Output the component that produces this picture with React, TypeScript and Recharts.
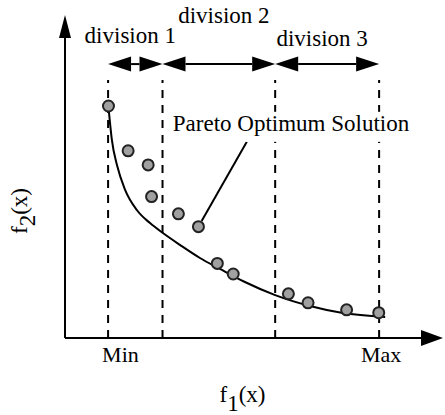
import {
  ComposedChart,
  Label,
  Line,
  ReferenceLine,
  Scatter,
  XAxis,
  YAxis,
} from "recharts";

const FONT = "'Liberation Serif', 'Times New Roman', serif";

// division boundaries along f1 (first = Min, last = Max)
const boundaries = [1.14, 2.58, 5.56, 8.31];
const divisionNames = ["division 1", "division 2", "division 3"];
const edgeLabels = ["Min", "Max"];
const arrowLevel = 8.56;
const dashTop = 8.06;

// sampled solutions (grey dots)
const solutionX = [1.15, 1.67, 2.2, 2.29, 3.0, 3.53, 4.03, 4.45, 5.91, 6.43, 7.45, 8.3];
const solutionY = [7.25, 5.85, 5.41, 4.42, 3.88, 3.48, 2.33, 2.0, 1.38, 1.1, 0.88, 0.79];

// pareto front curve
const frontX = [1.16, 1.24, 1.38, 1.59, 1.9, 2.25, 2.59, 3.04, 3.57, 4.1, 4.76, 5.56, 6.48, 7.35, 8.47];
const frontY = [7.09, 6.19, 5.38, 4.63, 4.0, 3.59, 3.28, 2.91, 2.5, 2.16, 1.75, 1.34, 1.0, 0.78, 0.66];

const paretoLabel = "Pareto Optimum Solution";
const paretoPoint = 5;
const paretoAnchor = { x: 4.81, y: 6.13 };

const solutions = solutionX.map((x, i) => ({ x, y: solutionY[i] }));
const front = frontX.map((x, i) => ({ x, y: frontY[i] }));

// label offsets (px) from the middle of each division arrow
const divLabelOffsets = [
  [-5, -21],
  [5, -41],
  [-5, -18],
];

const textStyle = { fill: "#000", fontFamily: FONT };

const AxisArrow = ({ x1, y1, x2, y2, len, half }: any) => {
  const dx = x2 - x1;
  const dy = y2 - y1;
  const d = Math.hypot(dx, dy);
  const ux = dx / d;
  const uy = dy / d;
  const bx = x2 - ux * len;
  const by = y2 - uy * len;
  const px = -uy * half;
  const py = ux * half;
  return (
    <g>
      <line x1={x1} y1={y1} x2={bx} y2={by} stroke="#000" strokeWidth={2} />
      <polygon
        points={`${x2},${y2} ${bx + px},${by + py} ${bx - px},${by - py}`}
        fill="#000"
      />
    </g>
  );
};

const DivisionArrow = ({ x1, y1, x2, i }: any) => {
  const L = 23;
  const H = 7.5;
  const y = y1;
  const [ox, oy] = divLabelOffsets[i];
  return (
    <g>
      <line x1={x1 + L} y1={y} x2={x2 - L} y2={y} stroke="#000" strokeWidth={2} />
      <polygon points={`${x1},${y} ${x1 + L},${y - H} ${x1 + L},${y + H}`} fill="#000" />
      <polygon points={`${x2},${y} ${x2 - L},${y - H} ${x2 - L},${y + H}`} fill="#000" />
      <text
        x={(x1 + x2) / 2 + ox}
        y={y + oy}
        textAnchor="middle"
        fontSize={23}
        style={textStyle}
      >
        {divisionNames[i]}
      </text>
    </g>
  );
};

const ParetoCallout = ({ x1, y1, x2, y2 }: any) => {
  const d = Math.hypot(x2 - x1, y2 - y1);
  const sx = x1 + ((x2 - x1) / d) * 6.5;
  const sy = y1 + ((y2 - y1) / d) * 6.5;
  return (
    <g>
      <line x1={sx} y1={sy} x2={x2} y2={y2} stroke="#000" strokeWidth={2} />
      <rect x={x2 - 77} y={y2 - 30} width={243} height={30} fill="#fff" />
      <text x={x2 - 74} y={y2 - 11} fontSize={23} style={textStyle}>
        {paretoLabel}
      </text>
    </g>
  );
};

const EdgeTick = ({ x, y, payload }: any) => {
  const isMin = payload.value === boundaries[0];
  return (
    <text
      x={isMin ? x - 6 : x + 2}
      y={y + 16}
      textAnchor={isMin ? "start" : "middle"}
      fontSize={22}
      style={textStyle}
    >
      {isMin ? edgeLabels[0] : edgeLabels[1]}
    </text>
  );
};

const XLabel = ({ viewBox }: any) => (
  <text
    x={viewBox.x + viewBox.width / 2 - 11.5}
    y={viewBox.y + 64}
    textAnchor="middle"
    fontSize={23}
    style={textStyle}
  >
    <tspan>f</tspan>
    <tspan dy={9}>1</tspan>
    <tspan dy={-9}>(x)</tspan>
  </text>
);

const YLabel = ({ viewBox }: any) => (
  <text
    transform={`translate(${viewBox.x + 27}, ${viewBox.y + viewBox.height / 2 + 33}) rotate(-90)`}
    textAnchor="middle"
    fontSize={23}
    style={textStyle}
  >
    <tspan>f</tspan>
    <tspan dy={8}>2</tspan>
    <tspan dy={-8}>(x)</tspan>
  </text>
);

export default function App() {
  return (
    <div style={{ position: "absolute", left: 0, top: 0, background: "#fff" }}>
      <ComposedChart
        width={445}
        height={415}
        margin={{ top: 18, right: 2, bottom: 0, left: 0 }}
      >
        <XAxis
          type="number"
          dataKey="x"
          domain={[0, 10]}
          allowDataOverflow
          ticks={[boundaries[0], boundaries[boundaries.length - 1]]}
          tick={<EdgeTick />}
          tickLine={false}
          axisLine={false}
          height={77}
        >
          <Label content={<XLabel />} />
        </XAxis>
        <YAxis
          type="number"
          dataKey="y"
          domain={[0, 10]}
          allowDataOverflow
          tick={false}
          tickLine={false}
          axisLine={false}
          width={65}
        >
          <Label content={<YLabel />} />
        </YAxis>

        {boundaries.map((b) => (
          <ReferenceLine
            key={`dash-${b}`}
            segment={[
              { x: b, y: 0 },
              { x: b, y: dashTop },
            ]}
            stroke="#000"
            strokeWidth={2}
            strokeDasharray="8 7"
            ifOverflow="visible"
          />
        ))}

        {divisionNames.map((name, i) => (
          <ReferenceLine
            key={name}
            segment={[
              { x: boundaries[i], y: arrowLevel },
              { x: boundaries[i + 1], y: arrowLevel },
            ]}
            ifOverflow="visible"
            shape={(p: any) => <DivisionArrow {...p} i={i} />}
          />
        ))}

        <ReferenceLine
          segment={[
            { x: 0, y: 0 },
            { x: 0, y: 10.09 },
          ]}
          ifOverflow="visible"
          shape={(p: any) => <AxisArrow {...p} len={23} half={6} />}
        />
        <ReferenceLine
          segment={[
            { x: 0, y: 0 },
            { x: 10, y: 0 },
          ]}
          ifOverflow="visible"
          shape={(p: any) => <AxisArrow {...p} len={22} half={8} />}
        />

        <Line
          data={front}
          dataKey="y"
          type="monotone"
          stroke="#000"
          strokeWidth={2}
          dot={false}
          activeDot={false}
          isAnimationActive={false}
        />

        <ReferenceLine
          segment={[
            { x: solutions[paretoPoint].x, y: solutions[paretoPoint].y },
            paretoAnchor,
          ]}
          ifOverflow="visible"
          shape={(p: any) => <ParetoCallout {...p} />}
        />

        <Scatter
          data={solutions}
          dataKey="y"
          isAnimationActive={false}
          shape={(p: any) => (
            <circle
              cx={p.cx}
              cy={p.cy}
              r={5.5}
              fill="#a0a0a0"
              stroke="#222"
              strokeWidth={2}
            />
          )}
        />
      </ComposedChart>
    </div>
  );
}
